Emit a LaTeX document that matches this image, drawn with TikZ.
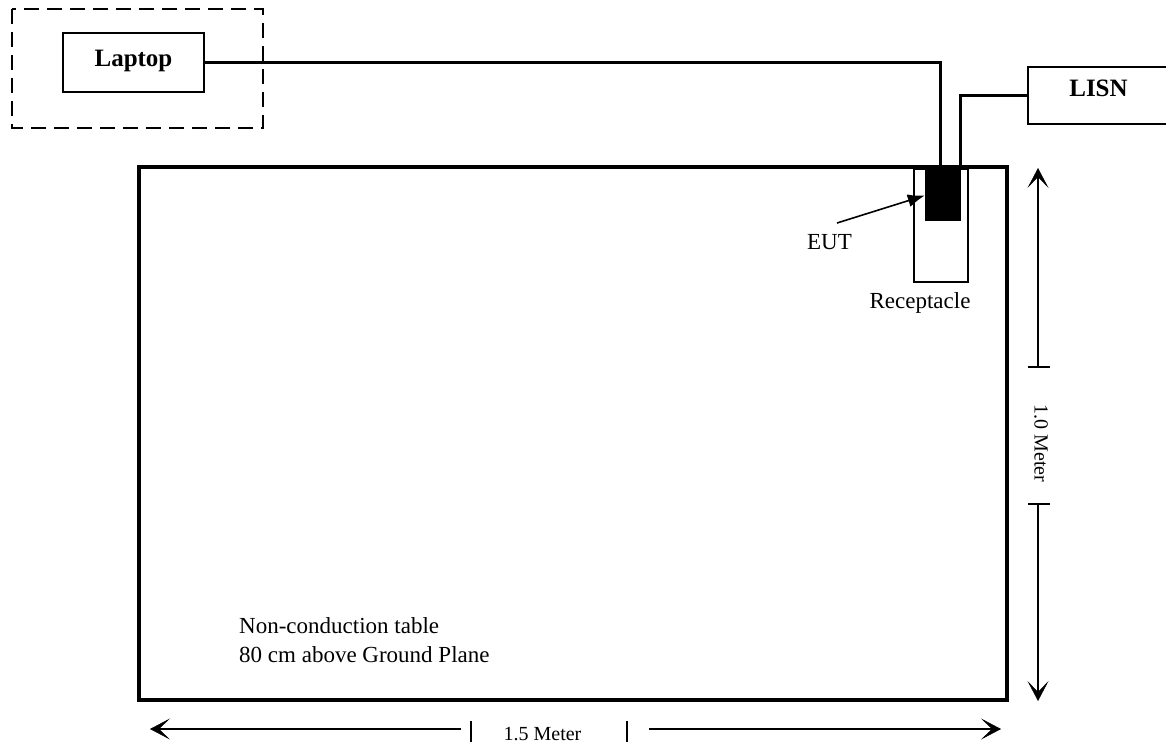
\documentclass[tikz,border=0pt]{standalone}
\usepackage{fontspec}
\setmainfont{Liberation Serif}
\usetikzlibrary{arrows.meta}
\begin{document}
\begin{tikzpicture}[x=1pt,y=-1pt,
  box/.style={draw, line width=1.8pt, inner sep=0pt},
  wire/.style={line width=3pt},
  dimline/.style={line width=1.4pt},
  dimtip/.style={-{Stealth[length=20pt,width=21pt,inset=11pt,line width=0.5pt]}},
  lbl/.style={font=\fontsize{23}{28}\selectfont, inner sep=0pt},
  dimlbl/.style={font=\fontsize{20}{24}\selectfont, inner sep=0pt},
  boldlbl/.style={font=\fontsize{25}{30}\selectfont\bfseries, inner sep=0pt}]
\useasboundingbox (0,0) rectangle (1166,746);
\clip (0,0) rectangle (1166,746);
% laptop group
\draw[line width=2.6pt, dash pattern=on 15pt off 8pt] (12,9) rectangle (263,128);
\node[box, minimum width=141pt, minimum height=59pt] (laptop) at (133.5,62.5) {};
\node[boldlbl, anchor=base] (laptoplbl) at (133.5,67) {Laptop};
% LISN
\node[box, minimum width=142pt, minimum height=57pt] (lisn) at (1099,95.5) {};
\node[boldlbl, anchor=base] (lisnlbl) at (1098.5,97) {LISN};
% table
\node[draw, line width=3.5pt, inner sep=0pt, minimum width=868pt, minimum height=533pt] (table) at (573,433.5) {};
% receptacle and EUT
\node[draw, line width=2.5pt, inner sep=0pt, minimum width=54pt, minimum height=113pt] (recept) at (941,225.5) {};
\node[fill=black, inner sep=0pt, minimum width=36pt, minimum height=51pt] (eut) at (943,195.5) {};
% wires
\coordinate (pinA) at (940,167);
\coordinate (pinB) at (960,165);
\draw[wire] (laptop.east) -| (pinA);
\draw[wire] (pinB) |- (lisn.west);
% EUT pointer
\node[lbl, anchor=base east] (eutlbl) at (852,249) {EUT};
\coordinate (euttail) at (837,223);
\draw[line width=1.6pt, -{Latex[length=17pt,width=13pt]}] (euttail) -- (eut.west);
\node[lbl, anchor=base] (reclbl) at (920,308) {Receptacle};
% table text
\node[lbl, anchor=base west] (tbl1) at (239,633) {Non-conduction table};
\node[lbl, anchor=base west] (tbl2) at (239,662) {80 cm above Ground Plane};
% vertical dimension
\coordinate (vtop) at (1038,168);
\coordinate (vt1) at (1038,367);
\coordinate (vt2) at (1038,504);
\coordinate (vbot) at (1038,701);
\draw[dimline, dimtip] (vt1) -- (vtop);
\draw[dimline, dimtip] (vt2) -- (vbot);
\draw[dimline] ([xshift=-10pt]vt1) -- ([xshift=12pt]vt1);
\draw[dimline] ([xshift=-10pt]vt2) -- ([xshift=12pt]vt2);
\node[dimlbl, rotate=-90] (vlbl) at (1041,443.5) {1.0 Meter};
% horizontal dimension
\coordinate (hleft) at (150,729);
\coordinate (hl1) at (461,729);
\coordinate (hr1) at (649,729);
\coordinate (hright) at (1001,729);
\draw[dimline, dimtip] (hl1) -- (hleft);
\draw[dimline, dimtip] (hr1) -- (hright);
\draw[dimline] (471,721) -- (471,742);
\draw[dimline] (627,721) -- (627,742);
\node[dimlbl, anchor=base] (hlbl) at (542.5,740) {1.5 Meter};
\end{tikzpicture}
\end{document}
